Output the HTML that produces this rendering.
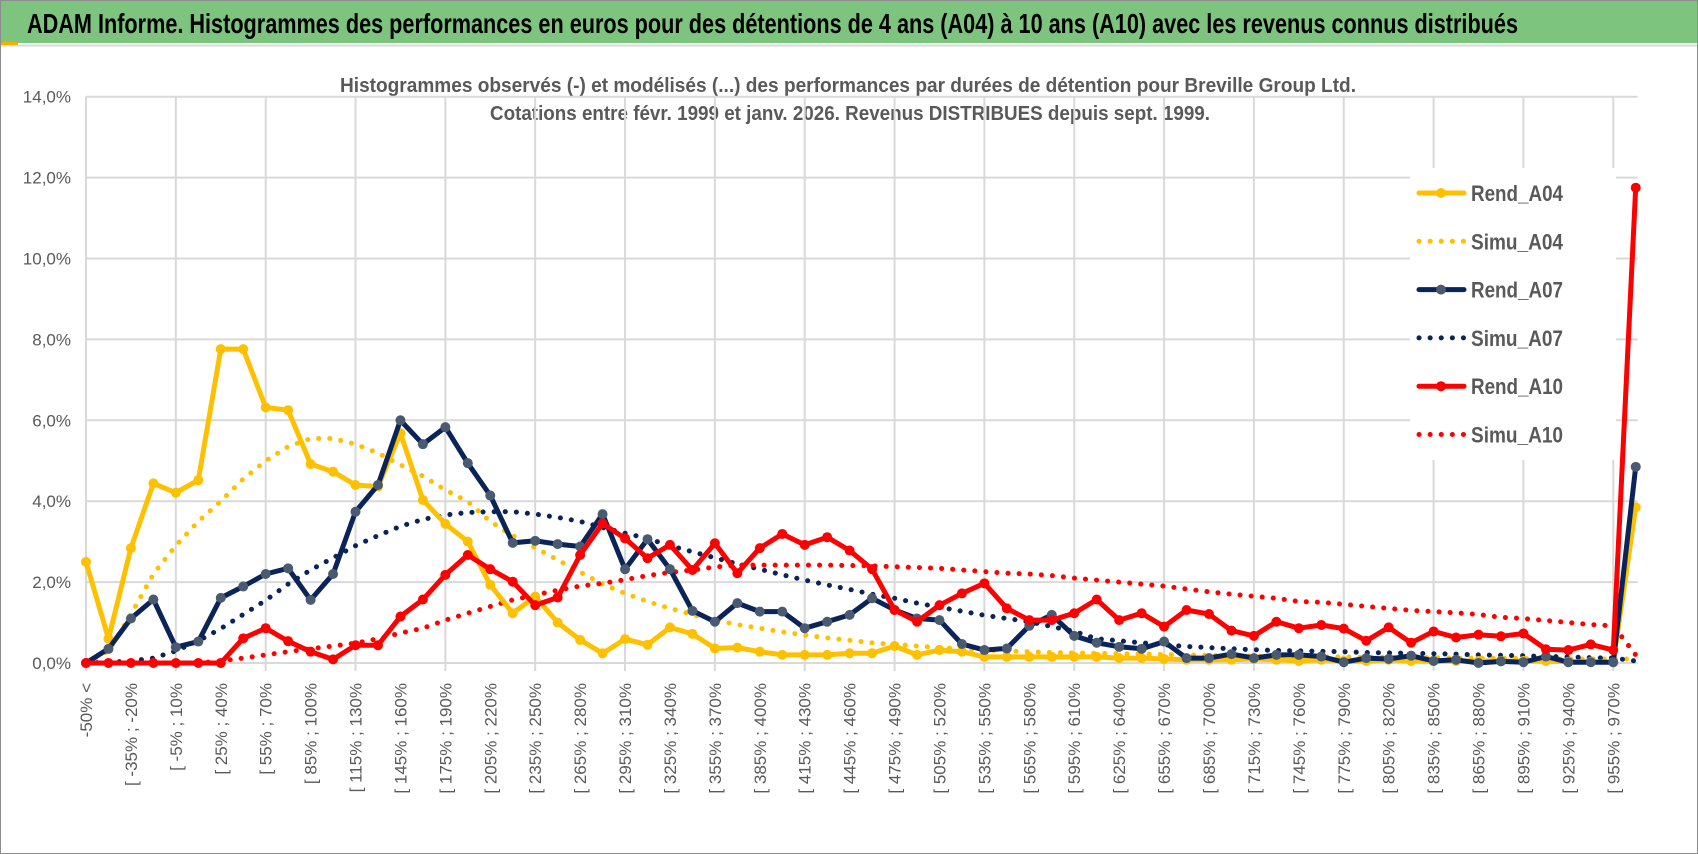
<!DOCTYPE html>
<html><head><meta charset="utf-8"><style>
html,body{margin:0;padding:0;background:#fff;}
svg{display:block;font-family:"Liberation Sans Narrow","Liberation Sans",sans-serif;}
</style></head><body>
<svg id="chart" width="1698" height="854" viewBox="0 0 1698 854" xmlns="http://www.w3.org/2000/svg">
<rect x="0.5" y="0.5" width="1697" height="853" fill="#fff" stroke="#8c8c8c"/>
<rect x="1" y="1" width="1696" height="42" fill="#7dc57e"/>
<line x1="1" y1="45.5" x2="1697" y2="45.5" stroke="#d9d9d9" stroke-width="2"/>
<rect x="1" y="42" width="17" height="3" fill="#f0b400"/>
<text x="27" y="33" font-size="28" font-weight="bold" fill="#000" textLength="1491" lengthAdjust="spacingAndGlyphs">ADAM Informe. Histogrammes des performances en euros pour des détentions de 4 ans (A04) à 10 ans (A10) avec les revenus connus distribués</text>
<text x="340" y="92" font-size="20" font-weight="bold" fill="#595959" textLength="1016" lengthAdjust="spacingAndGlyphs">Histogrammes observés (-) et modélisés (...) des performances par durées de détention pour Breville Group Ltd.</text>
<text x="490" y="120" font-size="20" font-weight="bold" fill="#595959" textLength="720" lengthAdjust="spacingAndGlyphs">Cotations entre févr. 1999 et janv. 2026. Revenus DISTRIBUES depuis sept. 1999.</text>
<g id="grid"></g>
<g id="yaxis"></g>
<g id="xaxis"></g>
<g id="legendbg"></g>
<g id="series"></g>
<g id="legend"></g>
</svg>
<script>
const yTicks = [0,2,4,6,8,10,12,14];
const nCat = 70;
const rendA04 = [2.5,0.6,2.84,4.44,4.21,4.52,7.76,7.76,6.32,6.25,4.92,4.73,4.40,4.36,5.68,4.03,3.44,3.0,1.93,1.23,1.64,1.0,0.57,0.24,0.59,0.45,0.88,0.72,0.36,0.38,0.28,0.20,0.20,0.20,0.24,0.24,0.42,0.20,0.32,0.28,0.15,0.15,0.15,0.15,0.15,0.15,0.12,0.12,0.1,0.08,0.08,0.08,0.1,0.08,0.05,0.08,0.05,0.05,0.08,0.05,0.05,0.05,0.05,0.05,0.05,0.05,0.03,0.03,0.02,3.85];
const simuA04 = [0,0.3,1.2,2.2,2.9,3.5,4.0,4.55,5.0,5.35,5.55,5.55,5.41,5.19,4.9,4.62,4.28,3.99,3.5,3.15,2.85,2.55,2.25,1.95,1.72,1.52,1.35,1.2,1.06,0.95,0.86,0.77,0.69,0.62,0.56,0.5,0.46,0.42,0.38,0.35,0.32,0.3,0.28,0.26,0.25,0.24,0.23,0.22,0.21,0.2,0.19,0.18,0.17,0.16,0.16,0.15,0.15,0.14,0.14,0.13,0.13,0.12,0.12,0.12,0.11,0.11,0.1,0.1,0.1,0.1];
const rendA07 = [0,0.35,1.10,1.57,0.39,0.53,1.61,1.89,2.20,2.34,1.56,2.2,3.74,4.40,6.0,5.41,5.83,4.94,4.14,2.97,3.02,2.94,2.88,3.68,2.32,3.06,2.32,1.29,1.02,1.48,1.27,1.27,0.86,1.02,1.19,1.60,1.31,1.10,1.06,0.47,0.32,0.36,0.92,1.19,0.67,0.50,0.40,0.35,0.53,0.12,0.12,0.22,0.12,0.2,0.2,0.16,0.02,0.12,0.1,0.18,0.05,0.08,0.0,0.04,0.02,0.16,0.02,0.02,0.02,4.85];
const simuA07 = [0,0.02,0.05,0.12,0.3,0.55,0.85,1.2,1.55,1.95,2.3,2.6,2.9,3.15,3.38,3.55,3.66,3.72,3.74,3.74,3.68,3.6,3.5,3.35,3.21,3.08,2.9,2.75,2.6,2.45,2.32,2.18,2.05,1.93,1.82,1.7,1.6,1.48,1.38,1.28,1.18,1.1,1.02,0.9,0.78,0.6,0.55,0.5,0.45,0.41,0.38,0.35,0.33,0.31,0.3,0.29,0.28,0.26,0.25,0.24,0.23,0.22,0.2,0.19,0.18,0.16,0.15,0.13,0.12,0.05];
const rendA10 = [0,0,0,0,0,0,0,0.61,0.86,0.54,0.28,0.09,0.44,0.44,1.15,1.57,2.18,2.67,2.32,2.01,1.43,1.62,2.67,3.45,3.08,2.59,2.92,2.30,2.96,2.22,2.84,3.19,2.92,3.11,2.78,2.32,1.31,1.02,1.43,1.72,1.97,1.35,1.06,1.06,1.23,1.57,1.06,1.23,0.9,1.31,1.21,0.80,0.67,1.02,0.86,0.94,0.85,0.55,0.88,0.50,0.78,0.63,0.70,0.66,0.73,0.34,0.32,0.46,0.32,11.75];
const simuA10 = [0,0,0,0,0,0,0.05,0.12,0.2,0.28,0.35,0.42,0.49,0.6,0.74,0.86,1.06,1.23,1.4,1.56,1.68,1.8,1.9,1.97,2.06,2.16,2.24,2.3,2.37,2.42,2.42,2.42,2.42,2.42,2.41,2.4,2.38,2.36,2.34,2.3,2.26,2.22,2.2,2.16,2.1,2.05,2.0,1.95,1.9,1.83,1.76,1.7,1.65,1.6,1.52,1.5,1.45,1.4,1.35,1.3,1.27,1.24,1.2,1.13,1.1,1.05,1.0,0.95,0.92,0.2];

const NS='http://www.w3.org/2000/svg';
const X0=86, DX=22.46, Y0=663, PY=40.45;
function xs(i){return X0+DX*i;}
function ys(v){return Y0-PY*v;}
function mk(tag,attrs,parent){const e=document.createElementNS(NS,tag);for(const k in attrs)e.setAttribute(k,attrs[k]);parent.appendChild(e);return e;}
function catLabel(i){if(i===0)return '-50% <';const a=-50+15*(i-1);return '[ '+a+'% ; '+(a+15)+'%';}

const grid=document.getElementById('grid');
const xEnd=xs(nCat-1)+2;
yTicks.forEach(t=>{
  const l=mk('line',{x1:X0,x2:xEnd,y1:ys(t),y2:ys(t),stroke:'#d9d9d9','stroke-width':2},grid);
  
  
});
for(let i=0;i<nCat;i+=4){
  const l=mk('line',{x1:xs(i),x2:xs(i),y1:ys(14),y2:ys(0)+8,stroke:'#d9d9d9','stroke-width':2},grid);
  
  
}
const yax=document.getElementById('yaxis');
yTicks.forEach(t=>{
  const tx=mk('text',{x:71,y:ys(t)+6,'text-anchor':'end','font-size':17,fill:'#595959','font-family':'Liberation Sans, sans-serif'},yax);
  tx.textContent=t.toFixed(1).replace('.',',')+'%';
  
  
});
const xax=document.getElementById('xaxis');
for(let i=0;i<nCat;i+=2){
  const x=xs(i)+6, y=683;
  const tx=mk('text',{x:x,y:y,transform:'rotate(-90 '+x+' '+y+')','text-anchor':'end','font-size':17,fill:'#595959','font-family':'Liberation Sans, sans-serif'},xax);
  tx.textContent=catLabel(i);
  
  
}
const lb=mk('rect',{x:1410,y:168,width:206,height:292,fill:'#fff'},document.getElementById('legendbg'));



const seriesDefs=[
 {name:'Rend_A04',data:rendA04,color:'#ffc000',dotted:false,mc:'#ffc000'},
 {name:'Simu_A04',data:simuA04,color:'#ffc000',dotted:true},
 {name:'Rend_A07',data:rendA07,color:'#0a2459',dotted:false,mc:'#4a5a70'},
 {name:'Simu_A07',data:simuA07,color:'#0a2459',dotted:true},
 {name:'Rend_A10',data:rendA10,color:'#ff0000',dotted:false,mc:'#ff0000'},
 {name:'Simu_A10',data:simuA10,color:'#ff0000',dotted:true}
];
const sg=document.getElementById('series');
const drawOrder=[1,3,5,0,2,4];
drawOrder.forEach(si=>{
  const s=seriesDefs[si];
  const pts=s.data.map((v,i)=>xs(i).toFixed(1)+','+ys(v).toFixed(1)).join(' ');
  const g=mk('g',{},sg);
  
  
  const pl=mk('polyline',{points:pts,fill:'none',stroke:s.color,'stroke-width':s.dotted?5:5,'stroke-linejoin':'round','stroke-linecap':'round'},g);
  if(s.dotted)pl.setAttribute('stroke-dasharray','0.1 11');
  
  
  if(!s.dotted){
    s.data.forEach((v,i)=>{
      const c=mk('circle',{cx:xs(i),cy:ys(v),r:5,fill:s.mc},g);
      
      
    });
  }
});
const lg=document.getElementById('legend');
seriesDefs.forEach((s,k)=>{
  const y=193+k*48.3;
  const g=mk('g',{},lg);
  
  
  const l=mk('line',{x1:1419,x2:1464,y1:y,y2:y,stroke:s.color,'stroke-width':5,'stroke-linecap':'round'},g);
  if(s.dotted)l.setAttribute('stroke-dasharray','0.1 11');
  if(!s.dotted)mk('circle',{cx:1441,cy:y,r:5,fill:s.mc},g);
  const t=mk('text',{x:1471,y:y+8,'font-size':22,'font-weight':'bold',fill:'#595959',textLength:92,lengthAdjust:'spacingAndGlyphs'},g);
  t.textContent=s.name;
});
</script>
</body></html>
